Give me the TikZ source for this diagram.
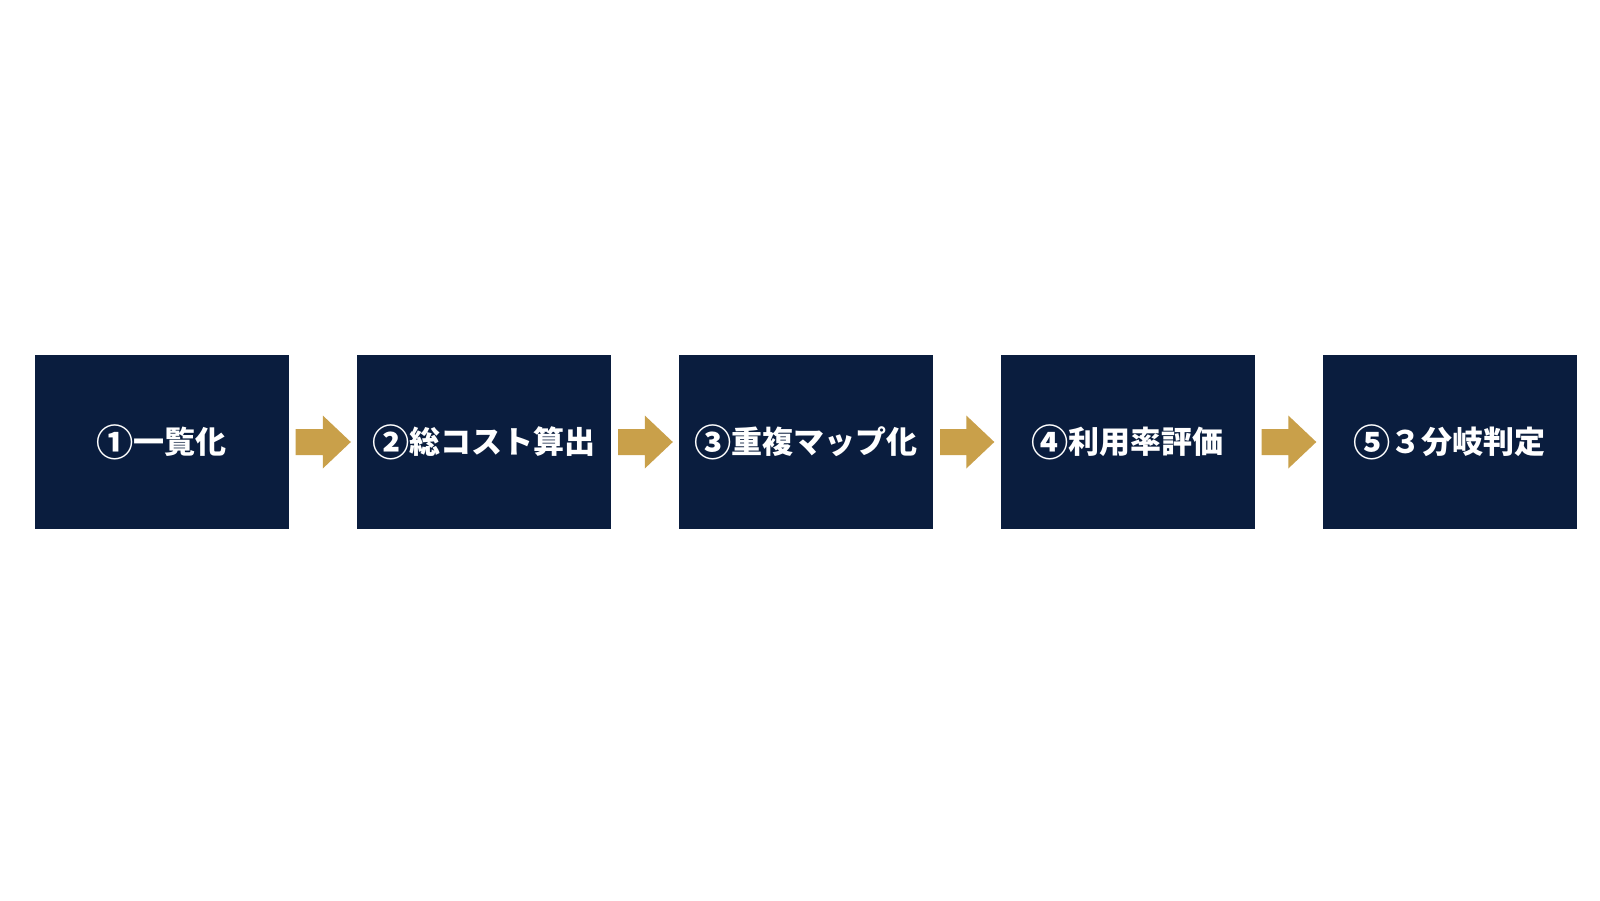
\documentclass[tikz,border=0pt]{standalone}
\usepackage{fontspec}
\usepackage{graphicx}
\setmainfont{Noto Sans CJK JP}
\usetikzlibrary{calc}
\definecolor{navybox}{HTML}{0A1D3E}
\definecolor{goldarrow}{HTML}{C9A04A}
\tikzset{
  stepbox/.style={rectangle, fill=navybox, draw=none, inner sep=0pt,
    minimum width=254pt, minimum height=174pt, text=white,
    font=\fontsize{31pt}{31pt}\selectfont\bfseries},
  arrowfill/.style={fill=goldarrow, draw=none}
}
\newcommand\circnum[1]{\raisebox{-2.2pt}{\scalebox{1.2}{#1}}}
\newcommand\goldarrow[2]{%
  \fill[arrowfill] let \p1=(#1.east), \p2=(#2.west) in
    (\x1+7pt,\y1+13pt) -- (\x2-34pt,\y1+13pt) -- (\x2-34pt,\y1+26.5pt) --
    (\x2-6pt,\y1) -- (\x2-34pt,\y1-26.5pt) -- (\x2-34pt,\y1-13pt) --
    (\x1+7pt,\y1-13pt) -- cycle;}
\begin{document}
\begin{tikzpicture}[x=1pt,y=-1pt]
  \useasboundingbox[fill=white] (0,0) rectangle (1600,900);
  \node[stepbox] (b1) at (161.5,442) {\circnum{①}一覧化};
  \node[stepbox] (b2) at (484,442) {\circnum{②}総コスト算出};
  \node[stepbox] (b3) at (806,442) {\circnum{③}重複マップ化};
  \node[stepbox] (b4) at (1127.5,442) {\circnum{④}利用率評価};
  \node[stepbox] (b5) at (1449.5,442) {\circnum{⑤}３分岐判定};
  \goldarrow{b1}{b2}
  \goldarrow{b2}{b3}
  \goldarrow{b3}{b4}
  \goldarrow{b4}{b5}
\end{tikzpicture}
\end{document}
